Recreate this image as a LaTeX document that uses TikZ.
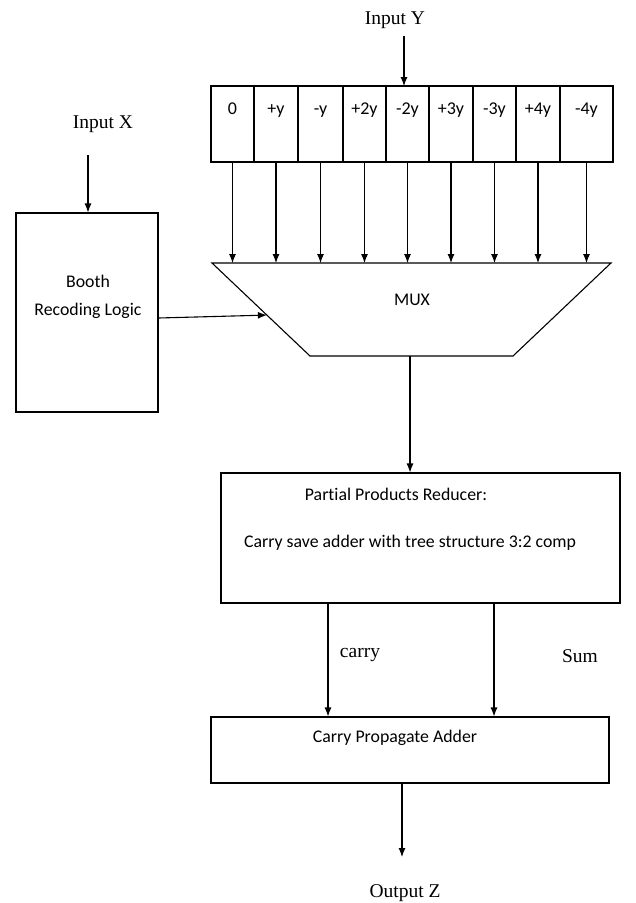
\documentclass[tikz,border=0pt]{standalone}
\usepackage{fontspec}
\setmainfont{Liberation Serif}
\newfontfamily\calfont[Ligatures=NoCommon]{Carlito}
\usetikzlibrary{arrows.meta,calc}
\begin{document}
\begin{tikzpicture}[x=1pt,y=-1pt,line width=1.1pt,
  arr/.style={-{Latex[length=9pt,width=7pt]}},
  box/.style={draw,rectangle,inner sep=0pt},
  serif/.style={font=\fontsize{19.5}{21}\selectfont,inner sep=0pt},
  cal/.style={font=\calfont\fontsize{17.8}{28}\selectfont,inner sep=0pt,align=center},
  cell/.style={font=\calfont\fontsize{18}{20}\selectfont,inner sep=0pt,anchor=base}]
\useasboundingbox (0,0) rectangle (636,903);
% Input Y
\node[serif] (iy) at (395,20) {Input Y};
% register cells
\foreach \n/\a/\b/\t in {1/211/254/0, 2/254/298/+y, 3/298/343/-y, 4/343/386/+2y, 5/386/429/-2y, 6/429/473/+3y, 7/473/516/-3y, 8/516/560/+4y, 9/560/613/-4y}{
  \node[box,minimum width={\b-\a},minimum height=76] (c\n) at ({(\a+\b)/2},124) {};
  \node[cell] (t\n) at ({(\a+\b)/2},114) {\t};
}
\coordinate (iyx) at (404,86);
\draw[arr] (iyx |- iy.south) ++(0,7) -- (iyx);
% MUX
\coordinate (mTL) at (212,263);
\coordinate (mTR) at (611,263);
\coordinate (mBR) at (513,356);
\coordinate (mBL) at (310,356);
\draw (mTL) -- (mTR) -- (mBR) -- (mBL) -- cycle;
\node[cal] (mux) at (412,300) {MUX};
\foreach \n in {1,...,9}{
  \draw[arr] (c\n.south) -- (c\n.south |- mTL);
}
% Booth
\node[serif] (ix) at (103,124) {Input X};
\node[box,minimum width=142,minimum height=199] (booth) at (87,312.5) {};
\node[cal] (btxt) at (88,297) {Booth\\Recoding Logic};
\coordinate (ixx) at (88,155);
\draw[arr] (ixx) -- (ixx |- booth.north);
\coordinate (muxin) at ($(mTL)!0.56!(mBL)$);
\draw[arr] (booth.east |- 0,318) -- (muxin);
% PPR
\node[box,minimum width=399,minimum height=130] (ppr) at (420.5,538) {};
\node[cal] (p1) at (396,494) {Partial Products Reducer:};
\node[cal] (p2) at (410,543) {Carry save adder with tree structure 3:2 comp};
\coordinate (mo) at (410,356);
\draw[arr] (mo) -- (mo |- ppr.north);
% CPA
\node[box,minimum width=398,minimum height=66] (cpa) at (410,750) {};
\node[cal] (ctxt) at (395,738) {Carry Propagate Adder};
\coordinate (ca) at (328,650);
\coordinate (su) at (494,650);
\draw[arr] (ca |- ppr.south) -- (ca |- cpa.north);
\draw[arr] (su |- ppr.south) -- (su |- cpa.north);
\node[serif] (carry) at (360,655) {carry};
\node[serif] (sum) at (580,656) {Sum};
% Output
\coordinate (oz) at (402,857);
\draw[arr] (oz |- cpa.south) -- (oz);
\node[serif] (out) at (405,893) {Output Z};
\end{tikzpicture}
\end{document}
